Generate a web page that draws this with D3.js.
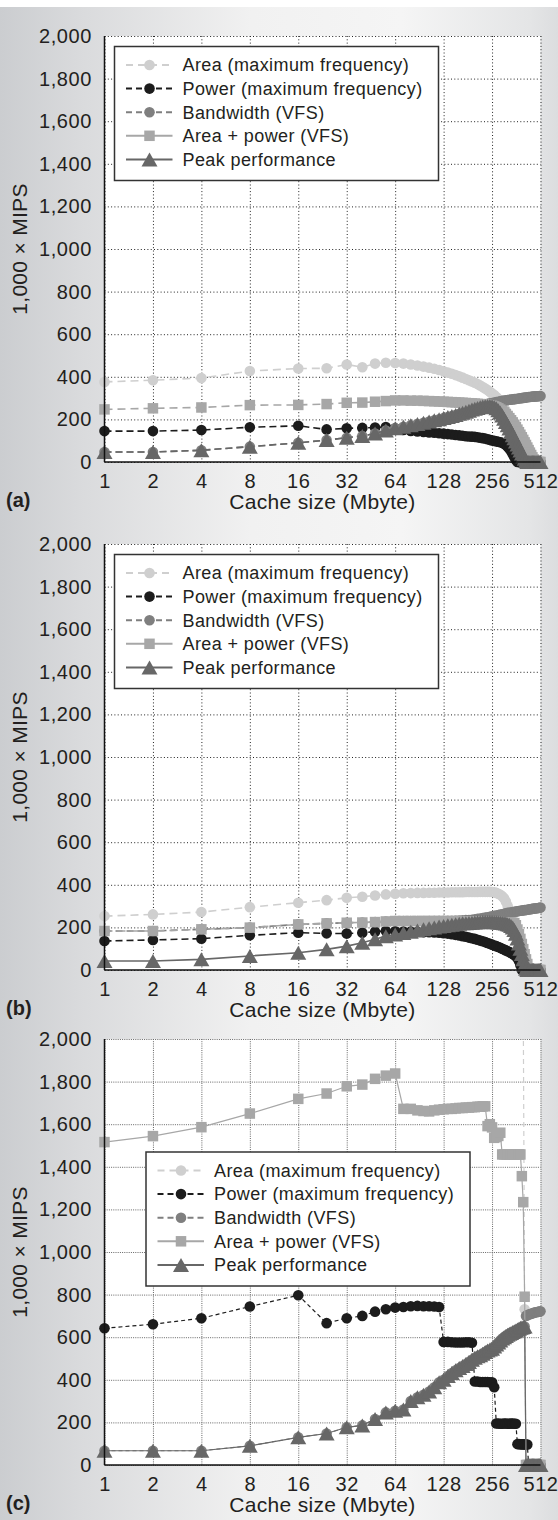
<!DOCTYPE html>
<html lang="en">
<head>
<meta charset="utf-8">
<title>Cache size vs 1,000 x MIPS</title>
<script src="https://cdnjs.cloudflare.com/ajax/libs/d3/7.8.5/d3.min.js"></script>
<style>
  body { margin: 0; }
  svg text { font-family: "Liberation Sans", Arial, sans-serif; fill: #231f20; }
</style>
</head>
<body>
<script>
var w = 558, h = 1520;

var cacheSizes = [1,2,4,8,16,24,32,40,48,56,64,72,80,88,96,104,112,120,128,136,144,152,160,168,176,184,192,200,
  208,216,224,232,240,248,256,264,272,280,288,296,304,312,320,328,336,344,352,360,368,376,384,392,400,408,
  416,424,432,440,448,456,464,472,480,488,496,504,512];
var xTicks = [1,2,4,8,16,32,64,128,256,512];
var yTicks = [0,200,400,600,800,1000,1200,1400,1600,1800,2000];
var seriesNames = ["Area (maximum frequency)", "Power (maximum frequency)", "Bandwidth (VFS)",
  "Area + power (VFS)", "Peak performance"];

// panel (a)
var areaA = [376,384,394,427,439,440,458,445,462,466,
  465,462,458,453,448,443,438,432,426,420,
  414,408,402,396,390,384,378,372,366,359,
  352,345,338,330,322,314,305,296,286,274,
  258,238,214,190,165,138,112,86,60,35,
  12,0,0,0,0,0,0,0,0,0,0,0,0,0,0,0,0];
var powerA = [145,145,150,163,170,153,158,160,162,164,
  158,150,146,143,141,139,137,135,133,131,
  129,127,125,123,121,120,119,118,116,114,
  112,110,107,104,101,99,97,95,93,90,
  86,80,72,62,50,36,22,9,0,0,
  0,0,0,0,0,0,0,0,0,0,0,0,0,0,0,0,0];
var bandwidthA = [47,47,55,72,90,103,114,122,134,148,
  158,165,172,178,184,190,196,201,206,211,
  216,221,226,231,236,241,246,252,258,263,
  267,270,273,275,277,279,281,283,285,287,
  288,290,291,292,293,294,295,296,297,298,
  299,300,301,302,303,304,305,305,306,307,
  307,308,308,309,309,310,310];
var areaPowerA = [247,252,256,267,268,272,278,279,283,286,
  289,289,288,288,287,286,285,284,283,282,
  281,280,279,278,277,276,275,274,273,272,
  271,270,268,266,264,261,257,252,246,240,
  233,225,216,206,196,186,175,164,152,140,
  128,116,104,92,80,68,56,44,33,22,
  12,4,0,0,0,0,0];
var peakA = [47,47,55,72,90,103,114,122,134,148,
  158,165,172,178,184,190,196,201,206,211,
  216,221,226,231,236,241,246,250,254,257,
  260,262,263,263,262,258,252,243,232,218,
  203,188,172,157,141,126,111,96,82,68,
  54,40,27,15,5,0,0,0,0,0,0,0,0,0,0,0,0];

// panel (b)
var areaB = [253,261,272,295,316,328,339,344,350,355,
  358,360,361,362,362,363,363,364,364,364,
  365,365,365,365,366,366,366,366,366,367,
  367,367,367,367,366,365,362,358,353,346,
  337,322,300,276,254,230,205,178,150,125,
  100,75,50,26,4,0,0,0,0,0,0,0,0,0,0,0,0];
var powerB = [136,141,147,163,175,172,171,175,180,183,
  182,181,180,179,178,177,176,175,173,171,
  168,165,162,159,156,152,149,146,142,138,
  135,131,127,123,119,115,112,108,104,100,
  96,92,88,84,80,75,70,64,56,42,
  22,0,0,0,0,0,0,0,0,0,0,0,0,0,0,0,0];
var bandwidthB = [183,183,191,199,214,219,222,223,225,228,
  230,230,230,230,230,230,230,230,230,230,
  230,231,232,233,234,235,236,238,240,242,
  244,246,248,250,252,254,256,258,260,262,
  264,266,268,269,270,272,273,274,276,277,
  278,279,280,281,282,283,284,285,286,287,
  288,289,290,290,291,292,293];
var areaPowerB = [183,183,191,199,214,219,222,223,225,228,
  230,230,230,230,230,230,230,230,230,230,
  230,230,230,229,229,229,229,228,228,228,
  227,227,227,226,226,226,225,225,225,224,
  224,223,223,222,222,221,220,210,190,168,
  146,122,98,74,50,28,8,0,0,0,0,0,0,0,0,0,0];
var peakB = [42,42,50,66,81,97,112,128,144,159,
  167,174,180,186,191,196,200,204,207,210,
  213,215,217,219,220,221,222,223,224,224,
  225,225,225,225,225,224,224,223,222,221,
  220,218,215,212,207,200,188,170,148,124,
  100,75,50,26,6,0,0,0,0,0,0,0,0,0,0,0,0];

// panel (c): area stays above the 2,000 top of the axis until ~400 Mbyte
var areaC = [2310,2330,2360,2420,2480,2500,2530,2540,2560,2580,
  2590,2570,2560,2550,2540,2530,2520,2510,2500,2490,
  2480,2470,2460,2450,2440,2430,2420,2410,2400,2390,
  2380,2370,2360,2350,2340,2330,2320,2310,2300,2290,
  2280,2270,2260,2250,2240,2230,2220,2210,2200,2190,
  2180,2170,2160,731,0,0,0,0,0,0,0,0,0,0,0,0,0];
var powerC = [642,661,689,744,797,666,689,700,720,731,
  739,742,745,747,745,745,744,742,578,578,
  576,575,575,575,576,576,574,392,392,390,
  390,390,390,388,388,365,195,195,194,194,
  195,195,194,194,195,195,194,194,98,98,
  97,97,97,96,96,96,0,0,0,0,0,0,0,0,0,0,0];
var bandwidthC = [67,67,67,90,130,148,177,186,216,247,
  255,260,300,318,330,345,365,388,400,418,
  432,445,455,465,474,484,494,503,510,515,
  522,530,537,542,546,556,566,575,585,594,
  600,606,612,616,620,624,628,632,636,640,
  644,646,648,650,700,703,706,708,710,712,
  714,716,717,718,719,720,722];
var areaPowerC = [1516,1544,1586,1650,1719,1744,1778,1786,1813,1828,
  1838,1672,1672,1665,1662,1660,1665,1668,1670,1672,
  1672,1674,1676,1676,1678,1678,1680,1680,1682,1682,
  1684,1684,1591,1600,1585,1536,1540,1545,1560,1458,
  1458,1458,1458,1458,1458,1458,1458,1458,1458,1458,
  1458,1356,1234,790,0,0,0,0,0,0,0,0,0,0,0,0,0];
var peakC = [67,67,67,90,130,148,177,186,216,247,
  255,260,300,318,330,345,365,388,400,418,
  432,445,455,465,474,484,494,503,510,515,
  522,530,537,542,546,556,566,575,585,594,
  600,606,612,616,620,624,628,632,636,640,
  644,646,648,650,0,0,0,0,0,0,0,0,0,0,0,0,0];

var colors = ["#cfcfcf", "#1c1c1c", "#7f7f7f", "#a7a7a7", "#676767"];
var markers = ["circle", "circle", "circle", "square", "triangle"];
var legendDash = ["7,5", "6,4", "6,4", null, null];

var panels = [
  { tag: "(a)", top: 36, data: [areaA, powerA, bandwidthA, areaPowerA, peakA],
    dash: ["8,5", "7,4", "7,4", "8,5", "7,4"], lw: 1.6,
    grid: { color: "#222", dash: "1,2.3" }, legend: { dx: 10, dy: 10.5 } },
  { tag: "(b)", top: 544, data: [areaB, powerB, bandwidthB, areaPowerB, peakB],
    dash: ["8,5", "7,4", "7,4", "8,5", null], lw: 1.6,
    grid: { color: "#222", dash: "1,2.3" }, legend: { dx: 10, dy: 10.5 } },
  { tag: "(c)", top: 1039, data: [areaC, powerC, bandwidthC, areaPowerC, peakC],
    dash: ["5,4", "4,3", "4,3", null, null], lw: 1.2,
    grid: { color: "#666", dash: "1,1.2" }, legend: { dx: 41.5, dy: 113 } }
];

var plotH = 426;
var x = d3.scaleLog().base(2).domain([1, 512]).range([104.5, 540.5]);

var svg = d3.select("body").append("svg")
  .attr("width", w)
  .attr("height", h);

var defs = svg.append("defs");
var grad = defs.append("linearGradient").attr("id", "bg")
  .attr("x1", "0%").attr("x2", "100%").attr("y1", "0%").attr("y2", "0%");
[[0, "#cbcdd0"], [0.14, "#d9dadc"], [0.45, "#f1f1f1"], [0.72, "#f5f5f5"], [0.95, "#e4e5e6"], [1, "#dcdddf"]]
  .forEach(function (s) {
    grad.append("stop").attr("offset", s[0]).attr("stop-color", s[1]);
  });

svg.append("rect").attr("width", w).attr("height", h).attr("fill", "#fff");
svg.append("rect").attr("y", 7).attr("width", w).attr("height", h - 7).attr("fill", "url(#bg)");

function markerPath(kind) {
  if (kind === "circle") return d3.symbol().type(d3.symbolCircle).size(Math.PI * 5.3 * 5.3)();
  if (kind === "square") return "M-5.25,-5.25H5.25V5.25H-5.25Z";
  return "M0,-7L8,7H-8Z";
}

panels.forEach(function (p, pi) {
  var y = d3.scaleLinear().domain([0, 2000]).range([p.top + plotH, p.top]);
  var g = svg.append("g");
  var left = x.range()[0], right = x.range()[1];

  g.append("rect")
    .attr("x", left).attr("y", p.top)
    .attr("width", right - left).attr("height", plotH)
    .attr("fill", "#fff");

  // dotted grid
  var gy = g.append("g")
    .attr("transform", "translate(" + left + ",0)")
    .call(d3.axisLeft(y).tickValues(yTicks).tickSize(-(right - left)).tickFormat(""));
  var gx = g.append("g")
    .attr("transform", "translate(0," + (p.top + plotH) + ")")
    .call(d3.axisBottom(x).tickValues(xTicks).tickSize(plotH).tickFormat(""));
  gx.selectAll(".tick line").attr("transform", "translate(0," + (-plotH) + ")");
  [gy, gx].forEach(function (a) {
    a.select(".domain").remove();
    a.selectAll(".tick line")
      .attr("stroke", p.grid.color)
      .attr("stroke-width", 1)
      .attr("stroke-dasharray", p.grid.dash);
  });

  // tick labels
  var ly = g.append("g")
    .attr("transform", "translate(" + left + ",0)")
    .call(d3.axisLeft(y).tickValues(yTicks).tickSize(0).tickPadding(12.5).tickFormat(d3.format(",")));
  var lx = g.append("g")
    .attr("transform", "translate(0," + (p.top + plotH) + ")")
    .call(d3.axisBottom(x).tickValues(xTicks).tickSize(0).tickPadding(12).tickFormat(d3.format("d")));
  [ly, lx].forEach(function (a) {
    a.select(".domain").remove();
    a.selectAll("text")
      .attr("font-size", 20)
      .attr("letter-spacing", 0.6)
      .attr("font-family", null)
      .attr("fill", "#231f20");
  });

  // series
  defs.append("clipPath").attr("id", "clip" + pi)
    .append("rect").attr("x", 0).attr("y", p.top).attr("width", w).attr("height", plotH + 30);
  var plot = g.append("g").attr("clip-path", "url(#clip" + pi + ")");
  var line = d3.line()
    .x(function (d) { return x(d[0]); })
    .y(function (d) { return y(d[1]); });

  p.data.forEach(function (vals, si) {
    var pts = cacheSizes.map(function (c, i) { return [c, vals[i]]; });
    var sg = plot.append("g");
    sg.append("path")
      .attr("d", line(pts))
      .attr("fill", "none")
      .attr("stroke", colors[si])
      .attr("stroke-width", p.lw)
      .attr("stroke-dasharray", p.dash[si]);
    sg.selectAll("path.m")
      .data(pts)
      .enter()
      .append("path")
      .attr("class", "m")
      .attr("d", markerPath(markers[si]))
      .attr("transform", function (d) { return "translate(" + x(d[0]) + "," + y(d[1]) + ")"; })
      .attr("fill", colors[si]);
  });

  // axis lines
  g.append("line")
    .attr("x1", left).attr("x2", left)
    .attr("y1", p.top).attr("y2", p.top + plotH)
    .attr("stroke", "#111").attr("stroke-width", 1.5);
  g.append("line")
    .attr("x1", left).attr("x2", right)
    .attr("y1", p.top + plotH).attr("y2", p.top + plotH)
    .attr("stroke", "#111").attr("stroke-width", 1.5);

  // titles
  g.append("text")
    .attr("x", (left + right) / 2)
    .attr("y", p.top + plotH + 47)
    .attr("text-anchor", "middle")
    .attr("font-size", 21)
    .attr("letter-spacing", 0.3)
    .text("Cache size (Mbyte)");
  g.append("text")
    .attr("transform", "translate(27," + (p.top + plotH / 2) + ") rotate(-90)")
    .attr("text-anchor", "middle")
    .attr("font-size", 21)
    .attr("letter-spacing", 0.3)
    .text("1,000 \u00d7 MIPS");
  g.append("text")
    .attr("x", 6)
    .attr("y", p.top + plotH + 45)
    .attr("font-size", 20)
    .attr("font-weight", "bold")
    .text(p.tag);

  // legend
  var lgx = left + p.legend.dx, lgy = p.top + p.legend.dy;
  var lg = g.append("g").attr("transform", "translate(" + lgx + "," + lgy + ")");
  lg.append("rect")
    .attr("width", 324).attr("height", 134)
    .attr("fill", "#fff")
    .attr("stroke", "#333")
    .attr("stroke-width", 1.5);
  seriesNames.forEach(function (name, si) {
    var ry = 18.5 + si * 23.6;
    lg.append("line")
      .attr("x1", 11.5).attr("x2", 58)
      .attr("y1", ry).attr("y2", ry)
      .attr("stroke", colors[si])
      .attr("stroke-width", 2)
      .attr("stroke-dasharray", legendDash[si]);
    lg.append("path")
      .attr("d", markerPath(markers[si]))
      .attr("transform", "translate(35," + ry + ")")
      .attr("fill", colors[si]);
    lg.append("text")
      .attr("x", 68)
      .attr("y", ry)
      .attr("dy", "0.35em")
      .attr("font-size", 18)
      .attr("letter-spacing", 0.4)
      .text(name);
  });
});
</script>
</body>
</html>
